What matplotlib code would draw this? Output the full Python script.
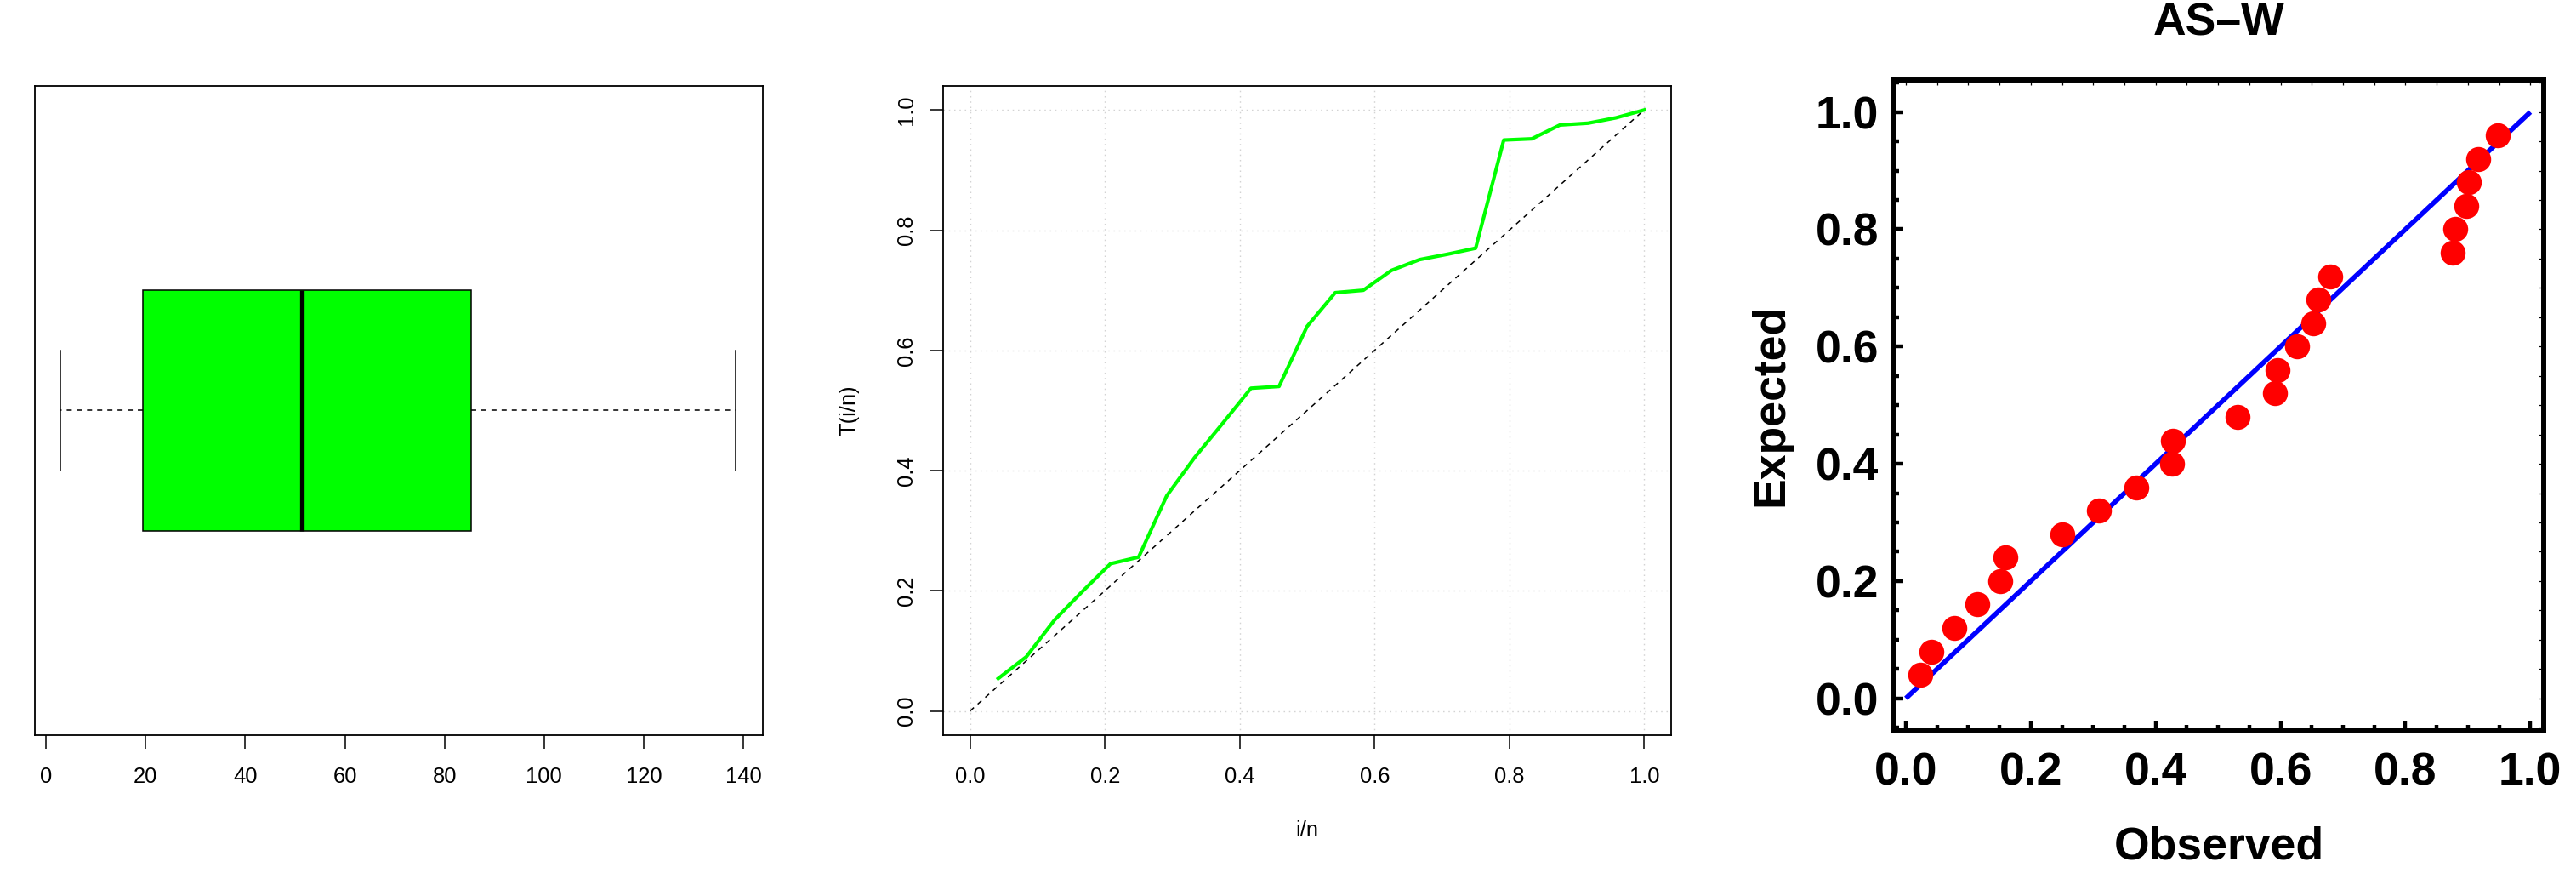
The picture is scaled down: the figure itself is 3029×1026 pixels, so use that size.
# Boxplot, TTT plot and P-P plot (AS-W)
import matplotlib
matplotlib.use("Agg")
import matplotlib.pyplot as plt
from matplotlib.ticker import MultipleLocator

plt.rcParams['font.family'] = ['Liberation Sans', 'DejaVu Sans']
plt.rcParams['lines.scale_dashes'] = False

W, H = 3029, 1026
DPI = 100

# panel 1 : box plot summary
box_min = 2.9
box_q1 = 19.4
box_med = 51.4
box_q3 = 85.4
box_max = 138.5
box_ticks = [0, 20, 40, 60, 80, 100, 120, 140]

# panel 2 : TTT plot
ttt_x = [0.0417, 0.0833, 0.125, 0.1667, 0.2083, 0.25, 0.2917, 0.3333,
         0.375, 0.4167, 0.4583, 0.5, 0.5417, 0.5833, 0.625, 0.6667,
         0.7083, 0.75, 0.7917, 0.8333, 0.875, 0.9167, 0.9583, 1.0]
ttt_y = [0.054, 0.090, 0.151, 0.199, 0.245, 0.256, 0.358, 0.422,
         0.479, 0.537, 0.540, 0.640, 0.696, 0.700, 0.733, 0.751,
         0.760, 0.770, 0.950, 0.952, 0.975, 0.978, 0.987, 1.000]
unit_ticks = [0.0, 0.2, 0.4, 0.6, 0.8, 1.0]
unit_labels = ['0.0', '0.2', '0.4', '0.6', '0.8', '1.0']

# panel 3 : P-P plot
pp_observed = [0.023, 0.041, 0.078, 0.114, 0.151, 0.159, 0.250, 0.309,
               0.369, 0.426, 0.427, 0.531, 0.591, 0.595, 0.627, 0.652,
               0.661, 0.679, 0.875, 0.880, 0.898, 0.902, 0.916, 0.948]
pp_expected = [0.04, 0.08, 0.12, 0.16, 0.20, 0.24, 0.28, 0.32,
               0.36, 0.40, 0.44, 0.48, 0.52, 0.56, 0.60, 0.64,
               0.68, 0.72, 0.76, 0.80, 0.84, 0.88, 0.92, 0.96]
pp_title = 'AS\u2013W'

fig = plt.figure(figsize=(W / DPI, H / DPI), dpi=DPI)


def px_axes(x0, y0, x1, y1):
    # pixel box (top-left origin) -> figure axes
    return fig.add_axes([x0 / W, 1 - y1 / H, (x1 - x0) / W, (y1 - y0) / H])


fs = 18.4
dash = (0, (4.3, 4.3))

# ---- panel 1
ax1 = px_axes(40.7, 101, 897.2, 863.8)
stats = [dict(med=box_med, q1=box_q1, q3=box_q3, whislo=box_min,
              whishi=box_max, fliers=[])]
ax1.bxp(stats, positions=[1], widths=0.4, capwidths=0.2,
        orientation='horizontal', patch_artist=True, showfliers=False,
        boxprops=dict(facecolor='#00FF00', edgecolor='black', linewidth=1.1),
        medianprops=dict(color='black', linewidth=3.8, solid_capstyle='butt'),
        whiskerprops=dict(color='black', linestyle=dash, linewidth=1.1),
        capprops=dict(color='black', linewidth=1.1))
ax1.set_xlim(-2.3, 143.95)
ax1.set_ylim(0.46, 1.54)
ax1.set_yticks([])
ax1.set_xticks(box_ticks)
ax1.set_xticklabels([str(t) for t in box_ticks])
ax1.tick_params(axis='x', direction='out', length=11.5, width=1.1,
                pad=15.5, labelsize=fs)
for s in ax1.spines.values():
    s.set_linewidth(1.3)

# ---- panel 2
ax2 = px_axes(1109, 101, 1965, 863.8)
ax2.set_axisbelow(True)
ax2.grid(True, color='#D3D3D3', linestyle=(0, (1.1, 3.4)), linewidth=1.0)
ax2.plot([0, 1], [0, 1], color='black', linestyle=dash, linewidth=1.1)
ax2.plot(ttt_x, ttt_y, color='#00FF00', linewidth=3.0)
ax2.set_xlim(-0.04, 1.04)
ax2.set_ylim(-0.04, 1.04)
ax2.set_xticks(unit_ticks)
ax2.set_xticklabels(unit_labels)
ax2.set_yticks(unit_ticks)
ax2.set_yticklabels(unit_labels)
ax2.tick_params(direction='out', length=11.5, width=1.1, labelsize=fs)
ax2.tick_params(axis='x', pad=15.5)
ax2.tick_params(axis='y', pad=11)
for lbl in ax2.get_yticklabels():
    lbl.set_rotation(90)
    lbl.set_va('center')
for s in ax2.spines.values():
    s.set_linewidth(1.3)
fig.text(1537 / W, 1 - 976 / H, 'i/n', ha='center', va='center', fontsize=fs)
fig.text(998 / W, 1 - 482 / H, 'T(i/n)', ha='center', va='center',
         rotation=90, fontsize=fs)

# ---- panel 3
bfs = 38.5
ax3 = px_axes(2226.85, 93.85, 2990.85, 858)
ax3.plot([0, 1], [0, 1], color='#0000FF', linewidth=4.1,
         solid_capstyle='butt', zorder=2)
ax3.plot(pp_observed, pp_expected, 'o', color='#FF0000', markersize=21.2,
         markeredgewidth=0, zorder=3)
ax3.set_xlim(-0.01927, 1.02117)
ax3.set_ylim(-0.05414, 1.05493)
ax3.xaxis.set_major_locator(MultipleLocator(0.2))
ax3.yaxis.set_major_locator(MultipleLocator(0.2))
ax3.xaxis.set_minor_locator(MultipleLocator(0.05))
ax3.yaxis.set_minor_locator(MultipleLocator(0.05))
ax3.set_xticklabels([])
ax3.set_yticklabels([])
ax3.set_xticks(unit_ticks)
ax3.set_xticklabels(unit_labels)
ax3.set_yticks(unit_ticks)
ax3.set_yticklabels(unit_labels)
ax3.tick_params(which='both', direction='in', top=False, right=False,
                width=3.2)
ax3.tick_params(which='major', length=8.0)
ax3.tick_params(which='minor', length=4.5)
ax3.tick_params(axis='x', pad=18.2, labelsize=bfs)
ax3.tick_params(axis='y', pad=12.6, labelsize=bfs)
for lbl in ax3.get_xticklabels() + ax3.get_yticklabels():
    lbl.set_fontweight('bold')
for s in ax3.spines.values():
    s.set_linewidth(4.3)

top = ax3.secondary_xaxis('top')
top.xaxis.set_major_locator(MultipleLocator(0.05))
top.tick_params(direction='in', length=4.4, width=0.9, labeltop=False)
right = ax3.secondary_yaxis('right')
right.yaxis.set_major_locator(MultipleLocator(0.05))
right.tick_params(direction='in', length=4.4, width=0.9, labelright=False)
for sec in (top, right):
    for s in sec.spines.values():
        s.set_visible(False)

fig.text(2609 / W, 1 - 41.8 / H, pp_title, ha='center', va='baseline',
         fontsize=bfs, fontweight='bold')
fig.text(2609 / W, 1 - 1010 / H, 'Observed', ha='center', va='baseline',
         fontsize=bfs, fontweight='bold')
fig.text(2082 / W, 1 - 476 / H, 'Expected', ha='center', va='center',
         rotation=90, fontsize=bfs, fontweight='bold')

fig.savefig('out.png', dpi=DPI)
